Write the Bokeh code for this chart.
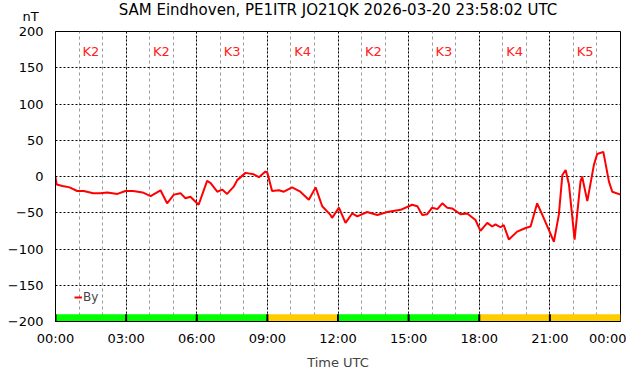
from bokeh.plotting import figure
from bokeh.models import FixedTicker, Label, Legend, LegendItem, ColumnDataSource
from bokeh.core.properties import value
from bokeh.embed import file_html
from bokeh.resources import INLINE

# ---- data ----
hours = [0.0, 0.05, 0.3, 0.6, 0.92, 1.2, 1.6, 1.9, 2.2, 2.63, 2.97, 3.3, 3.7, 4.04, 4.46,
         4.74, 5.03, 5.31, 5.52, 5.73, 6.08, 6.44, 6.59, 6.87, 7.08, 7.29, 7.57, 7.72, 8.07,
         8.42, 8.64, 8.92, 9.0, 9.2, 9.49, 9.7, 10.05, 10.4, 10.76, 11.05, 11.33, 11.68,
         11.75, 12.04, 12.32, 12.6, 12.82, 13.24, 13.67, 14.09, 14.66, 15.15, 15.37, 15.58,
         15.79, 16.0, 16.22, 16.43, 16.64, 16.85, 17.2, 17.49, 17.84, 18.05, 18.34, 18.55,
         18.69, 18.9, 19.04, 19.26, 19.61, 19.97, 20.18, 20.46, 20.68, 20.96, 21.17, 21.38,
         21.53, 21.67, 21.81, 22.05, 22.3, 22.37, 22.59, 22.87, 23.01, 23.27, 23.51, 23.65, 24.0]
by_nT = [-1, -11, -13, -15, -20, -20, -23, -23, -22, -24, -20, -20, -22, -27, -19,
         -37, -25, -23, -30, -28, -39, -6, -9, -21, -18, -24, -14, -5, 5,
         3, -1, 7, 5, -20, -19, -21, -15, -21, -32, -15, -41, -53,
         -57, -43, -64, -51, -55, -49, -53, -49, -46, -39, -41, -53,
         -52, -43, -45, -37, -43, -44, -52, -51, -60, -75, -64, -69,
         -66, -70, -67, -87, -76, -71, -69, -37, -53, -74, -90, -53,
         2, 9, -11, -87, -7, 0, -34, 16, 31, 34, -7, -21, -25]

k_start = [0, 3, 6, 9, 12, 15, 18, 21]
k_index = [2, 2, 3, 4, 2, 3, 4, 5]
x_ticks = [0, 3, 6, 9, 12, 15, 18, 21, 24]
x_tick_labels = ["00:00", "03:00", "06:00", "09:00", "12:00", "15:00", "18:00", "21:00", "00:00"]
y_ticks = [-200, -150, -100, -50, 0, 50, 100, 150, 200]
title_text = "SAM Eindhoven, PE1ITR JO21QK 2026-03-20 23:58:02 UTC"

FONT = "DejaVu Sans"

p = figure(width=626, height=370, frame_width=565, frame_height=290,
           x_range=(0, 24), y_range=(-200, 200),
           output_backend="svg", toolbar_location=None,
           min_border_left=55, min_border_right=6, min_border_top=30, min_border_bottom=50)
p.background_fill_color = "white"
p.border_fill_color = "white"
p.outline_line_color = "black"
p.outline_line_width = 1

p.title.text = title_text
p.title.align = "center"
p.title.text_font = FONT
p.title.text_font_size = "15px"
p.title.text_font_style = "normal"
p.title.text_color = "black"
p.title.standoff = -4

# axes
p.xaxis.ticker = FixedTicker(ticks=x_ticks, minor_ticks=list(range(0, 25)))
p.xaxis.major_label_overrides = {t: l for t, l in zip(x_ticks, x_tick_labels)}
p.yaxis.ticker = FixedTicker(ticks=y_ticks)
for ax in (p.xaxis[0], p.yaxis[0]):
    ax.major_tick_out = 0
    ax.major_tick_in = 0
    ax.minor_tick_out = 0
    ax.minor_tick_in = 0
    ax.axis_line_color = "black"
    ax.major_label_text_font = FONT
    ax.major_label_text_font_size = "13px"
    ax.major_label_text_color = "black"
p.yaxis.major_label_standoff = 12
p.xaxis.major_label_standoff = 9
p.xaxis.axis_label = "Time UTC"
p.xaxis.axis_label_text_font = FONT
p.xaxis.axis_label_text_font_size = "13px"
p.xaxis.axis_label_text_font_style = "normal"
p.xaxis.axis_label_standoff = 6

# grid
p.ygrid.grid_line_color = "black"
p.ygrid.grid_line_dash = "2 2"
p.xgrid.grid_line_color = "black"
p.xgrid.grid_line_dash = "2 2"
p.xgrid.minor_grid_line_color = "#999999"
p.xgrid.minor_grid_line_dash = "3 3"

# K index bars
k_colors = ["#00ff00" if k <= 3 else "#ffcc00" for k in k_index]
ksrc = ColumnDataSource(dict(
    left=k_start, right=[s + 3 for s in k_start],
    top=[-190] * len(k_start), bottom=[-200] * len(k_start),
    color=k_colors,
    xc=[s + 1.5 for s in k_start],
    label=["K%d" % k for k in k_index],
    ylab=[172] * len(k_start)))
p.quad(left="left", right="right", top="top", bottom="bottom", source=ksrc,
       fill_color="color", line_color=None)
p.segment(x0="left", x1="left", y0="bottom", y1="top", source=ksrc,
          line_color="black", line_width=2)
p.text(x="xc", y="ylab", text="label", source=ksrc, text_color="#ff2020",
       text_font=value(FONT), text_font_size="13px",
       text_align="center", text_baseline="middle")

# By line
r = p.line(hours, by_nT, line_color="#ff0000", line_width=2)

legend = Legend(items=[LegendItem(label="By", renderers=[r])], location=(19, 17),
                padding=0, margin=0, spacing=0, glyph_width=8, glyph_height=12,
                label_standoff=1, label_text_font=FONT, label_text_font_size="12px",
                label_height=12, background_fill_alpha=0, border_line_alpha=0)
p.add_layout(legend)

# unit label in the top side panel
p.add_layout(Label(x=-25, y=15, x_units="screen", y_units="screen", text="nT",
                   text_font=FONT, text_font_size="13px", text_align="center",
                   text_baseline="middle", text_color="black"), "above")

open("out.html", "w").write(file_html(p, INLINE))
